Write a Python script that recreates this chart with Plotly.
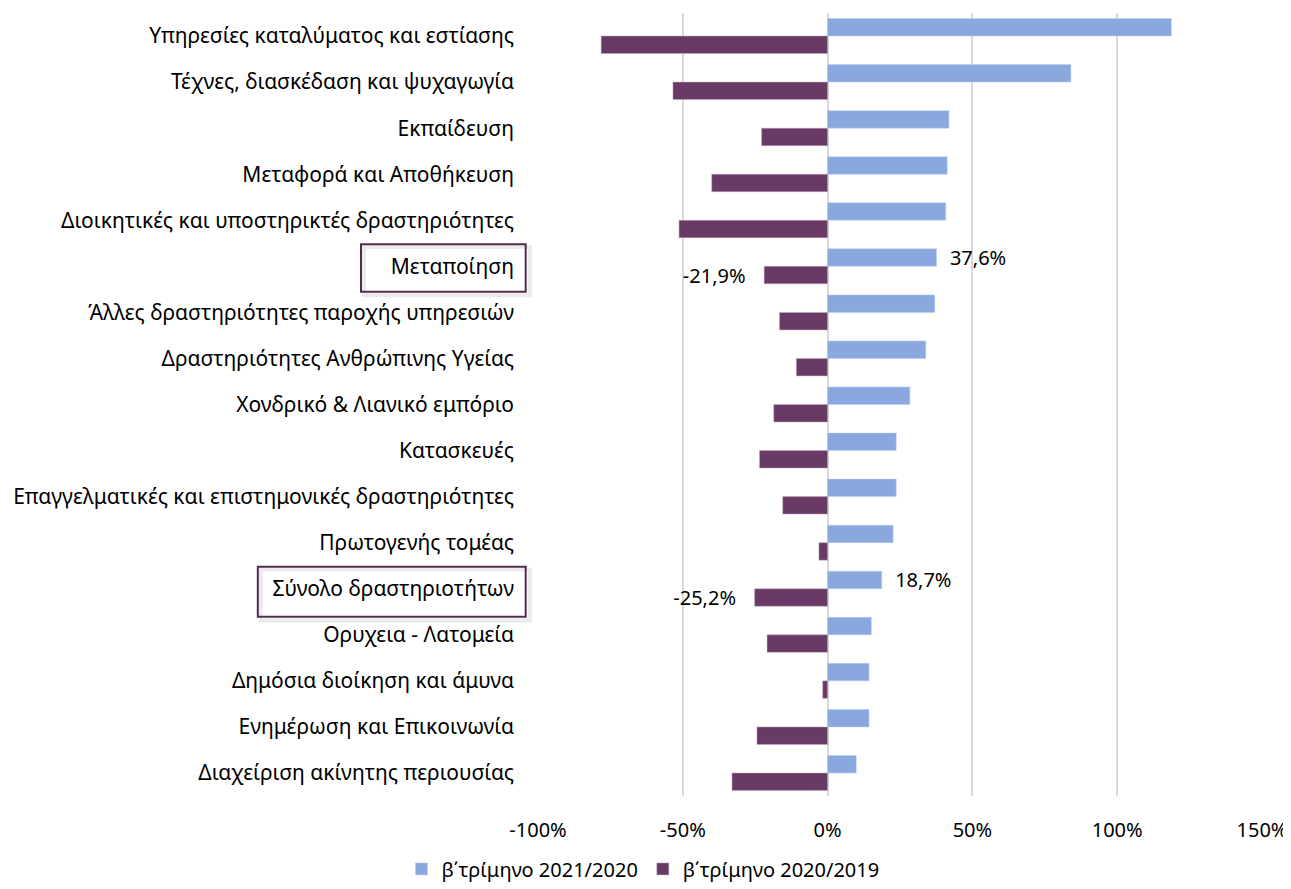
import plotly.graph_objects as go

categories = [
    "Υπηρεσίες καταλύματος και εστίασης",
    "Τέχνες, διασκέδαση και ψυχαγωγία",
    "Εκπαίδευση",
    "Μεταφορά και Αποθήκευση",
    "Διοικητικές και υποστηρικτές δραστηριότητες",
    "Μεταποίηση",
    "Άλλες δραστηριότητες παροχής υπηρεσιών",
    "Δραστηριότητες Ανθρώπινης Υγείας",
    "Χονδρικό & Λιανικό εμπόριο",
    "Κατασκευές",
    "Επαγγελματικές και επιστημονικές δραστηριότητες",
    "Πρωτογενής τομέας",
    "Σύνολο δραστηριοτήτων",
    "Ορυχεια - Λατομεία",
    "Δημόσια διοίκηση και άμυνα",
    "Ενημέρωση και Επικοινωνία",
    "Διαχείριση ακίνητης περιουσίας",
]

q2_2021_2020 = [118.7, 84.0, 41.9, 41.3, 40.8, 37.6, 37.0, 33.9, 28.4, 23.7, 23.7, 22.6, 18.7, 15.1, 14.3, 14.3, 9.9]
q2_2020_2019 = [-78.2, -53.4, -22.8, -40.0, -51.3, -21.9, -16.6, -10.8, -18.6, -23.5, -15.5, -3.0, -25.2, -20.9, -1.7, -24.4, -33.0]

highlighted = ["Μεταποίηση", "Σύνολο δραστηριοτήτων"]

name_a = "β΄τρίμηνο 2021/2020"
name_b = "β΄τρίμηνο 2020/2019"

font_family = "Noto Sans, Open Sans, sans-serif"
nbsp = "\u00a0"


def pct_label(v):
    s = f"{v:.1f}".replace(".", ",") + "%"
    # a little air between bar end and label, like the original
    return nbsp * 2 + s if v >= 0 else s + nbsp * 3


def labels_for(values):
    return [pct_label(v) if c in highlighted else "" for c, v in zip(categories, values)]


fig = go.Figure()

fig.add_trace(
    go.Bar(
        y=categories,
        x=q2_2021_2020,
        orientation="h",
        name=name_a,
        marker=dict(color="#89a9de", line=dict(color="#b9cbee", width=0.5)),
        text=labels_for(q2_2021_2020),
        textposition="outside",
        constraintext="none",
        cliponaxis=False,
        textfont=dict(size=20, color="black"),
    )
)
fig.add_trace(
    go.Bar(
        y=categories,
        x=q2_2020_2019,
        orientation="h",
        name=name_b,
        marker=dict(color="#693a65", line=dict(color="#c4a9c2", width=0.5)),
        text=labels_for(q2_2020_2019),
        textposition="outside",
        constraintext="none",
        cliponaxis=False,
        textfont=dict(size=20, color="black"),
    )
)

# boxes round the highlighted category names (soft shadow first, then the frame)
box_left = {"Μεταποίηση": -0.2445, "Σύνολο δραστηριοτήτων": -0.387}
box_bottom = {"Μεταποίηση": 0.55, "Σύνολο δραστηριοτήτων": 0.61}
for c in highlighted:
    i = categories.index(c)
    fig.add_shape(
        type="rect", xref="paper", yref="y",
        x0=box_left[c] + 0.004, x1=-0.011,
        y0=i - 0.42, y1=i + box_bottom[c] + 0.08,
        line=dict(color="rgba(0,0,0,0.08)", width=4),
        fillcolor="rgba(0,0,0,0)", layer="above",
    )
    fig.add_shape(
        type="rect", xref="paper", yref="y",
        x0=box_left[c], x1=-0.017,
        y0=i - 0.48, y1=i + box_bottom[c],
        line=dict(color="#4f2d4c", width=2),
        fillcolor="rgba(0,0,0,0)", layer="above",
    )

fig.update_layout(
    width=1283,
    height=881,
    barmode="group",
    bargap=0.24,
    bargroupgap=0.0,
    plot_bgcolor="white",
    paper_bgcolor="white",
    font=dict(family=font_family, size=20, color="black"),
    margin=dict(l=530, r=29, t=5, b=93, autoexpand=False),
    showlegend=True,
    legend=dict(
        orientation="h",
        x=0.145,
        xanchor="center",
        y=-0.118,
        yanchor="bottom",
        font=dict(size=20),
        traceorder="normal",
    ),
)

fig.update_xaxes(
    range=[-100, 150],
    tickvals=[-100, -50, 0, 50, 100, 150],
    ticktext=["-100%", "-50%", "0%", "50%", "100%", "150%"],
    showgrid=True,
    gridcolor="#d9d9d9",
    gridwidth=2,
    zeroline=True,
    zerolinecolor="#d9d9d9",
    zerolinewidth=2,
    showline=False,
    ticks="",
    ticklabelstandoff=20,
    tickfont=dict(size=20),
    automargin=False,
)
fig.update_yaxes(
    autorange="reversed",
    showgrid=False,
    showline=False,
    ticks="",
    ticklabelstandoff=23,
    tickfont=dict(size=21),
    automargin=False,
)

fig.write_html("out.html")
